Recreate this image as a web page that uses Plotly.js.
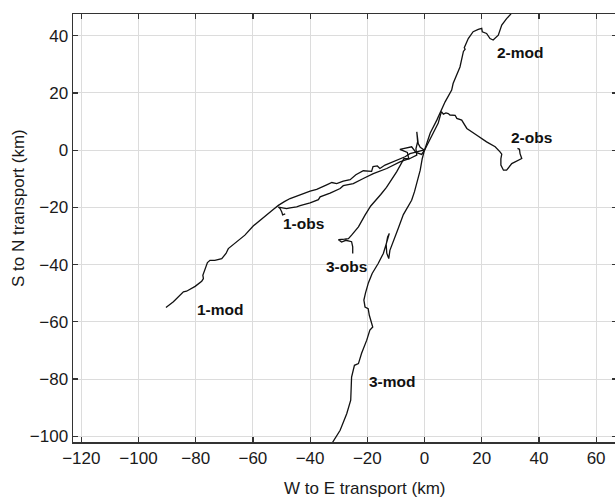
<!DOCTYPE html>
<html>
<head>
<meta charset="utf-8">
<script src="https://cdn.plot.ly/plotly-3.0.1.min.js"></script>
<style>
html,body{margin:0;padding:0;overflow:hidden;background:#fff;}
#chart{width:618px;height:497px;}
</style>
</head>
<body>
<div id="chart"></div>
<script>
// ---- data (km) ----
const mod1X = [0, -0.4, -2.7, -5.1, -6.8, -9.7, -13.8, -15.6, -16.5, -18, -18.5, -21.4, -24, -26, -28.4, -30.7, -32.4, -34.2, -37.7, -40, -42.4, -45, -47, -49, -51.1, -53, -55.2, -57.5, -59.9, -62.8, -65.7, -68.6, -69.4, -70.9, -73.3, -75, -75.9, -76.4, -77, -77.5, -77.3, -77.9, -80.2, -83.2, -84.3, -84.9, -87.8, -90.4];
const mod1Y = [0, 0, -0.6, -1.2, -2.3, -3.5, -5.2, -6.4, -5.5, -5.7, -7.4, -7.2, -8.6, -10.3, -10.8, -11.7, -11.3, -12.1, -13.7, -14.3, -15.1, -16, -16.9, -18, -19.3, -20.8, -22.7, -24.5, -26.5, -29.7, -32.1, -34.4, -36.1, -37.9, -38.5, -38.5, -39.3, -40.8, -42.2, -43.7, -44.9, -45.8, -47.6, -49.3, -49.5, -50.1, -53, -55];

const obs1X = [0, -1.5, -2.2, -2.7, -2.4, -3, -2.7, -5.1, -8.6, -13.2, -17.9, -21.4, -24.9, -28.4, -29.5, -33, -36.5, -37.1, -40, -43.5, -44.7, -47, -48.2, -51.1, -50.5, -49.9, -49.6, -48.7];
const obs1Y = [0, 1, 2.3, 6.4, 3, 0.5, -1.7, -2.9, -4.1, -6.4, -8.2, -9.9, -11.7, -12.4, -13.4, -15, -16.3, -17.3, -18.4, -19.4, -19.8, -20.2, -20.4, -19.9, -20.4, -21.6, -22.6, -22.3];

const mod2X = [0, 1, 2, 4.3, 5.8, 7.2, 9.5, 10, 12.4, 13.6, 14.2, 13.9, 15.3, 17, 18.8, 20, 20.2, 21.7, 22.9, 24, 25.8, 27, 28.7, 30.1, 31];
const mod2Y = [0, 3, 6, 10.5, 13.7, 16.9, 21, 23.3, 29.1, 34.5, 35.3, 35.8, 39, 41.4, 42.2, 42.6, 41.4, 40.8, 39, 38.5, 40.2, 43.7, 46, 47.5, 49];

const obs2X = [0, 1.2, 2.8, 4.8, 5.9, 6.6, 7.5, 8.3, 8.9, 10.7, 11.3, 13, 14.8, 16.5, 18.3, 21.7, 24.7, 26.4, 27, 26.7, 26.7, 27.6, 28.7, 30.5, 34, 33.4, 33.2, 32.5];
const obs2Y = [0, 2.5, 5.5, 9.5, 13.5, 12.6, 13, 12.8, 12.3, 12.2, 11.1, 10.5, 7.6, 6.3, 5.2, 2.9, 1.2, -0.6, -1.4, -3, -5.2, -7, -7, -4.7, -2.9, -1.2, 0.3, 0.6];

const mod3X = [0, -0.8, -1.5, -2.5, -3.5, -4.5, -6, -7.4, -9.2, -10.9, -12.1, -12.5, -13.2, -13.4, -12.9, -12.3, -12.8, -13.6, -14.4, -16.2, -18.3, -19.6, -20.6, -21.2, -20.8, -19.7, -19.3, -18.5, -18.1, -19.1, -20.2, -22, -23.1, -24.5, -24.9, -25.5, -25.8, -27.2, -29.5, -32.1, -33];
const mod3Y = [0, -3, -7, -11, -14.5, -17.5, -20, -22.5, -27.4, -32.1, -35, -37.9, -36, -33, -30.3, -29.1, -30.5, -33.5, -36.1, -39.6, -43.1, -46.3, -49.8, -52.4, -54.8, -55.4, -57.7, -60, -61.8, -62.9, -66.4, -71, -74.6, -75.2, -77, -79.3, -87.4, -92.1, -97.9, -102, -103.5];

const obs3X = [0, -1, -3, -4.5, -8.6, -6, -5.5, -7.2, -9.7, -11.5, -13.3, -15.3, -17.3, -18.8, -20.8, -23.1, -25.5, -26.6, -28, -30.1, -29, -27.5, -25.5, -25.1, -25.1];
const obs3Y = [0, -1.5, -0.8, 1.2, 0.3, -0.8, -3, -3, -7.5, -10.5, -13, -15.5, -18, -19.5, -22.7, -26.8, -29.7, -30.9, -31.1, -31.3, -32.1, -31.5, -32, -33.8, -36.1];

const xTicks = [-120, -100, -80, -60, -40, -20, 0, 20, 40, 60];
const yTicks = [-100, -80, -60, -40, -20, 0, 20, 40];
const labels = ['1-mod', '1-obs', '2-mod', '2-obs', '3-mod', '3-obs'];
const labelX = [-71.3, -42.4, 33.4, 37.5, -11.3, -27.2];
const labelY = [-55.7, -25.6, 34.1, 4.3, -80.7, -40.8];

// ---- chart ----
const lineStyle = {color: '#111', width: 1.3};
const series = [[mod1X, mod1Y], [obs1X, obs1Y], [mod2X, mod2Y], [obs2X, obs2Y], [mod3X, mod3Y], [obs3X, obs3Y]];
const traces = series.map(s => ({x: s[0], y: s[1], type: 'scatter', mode: 'lines', line: lineStyle, hoverinfo: 'skip'}));

const FONT = '"Liberation Sans", Arial, Helvetica, sans-serif';
const axisCommon = {
  ticks: 'inside', ticklen: 5, tickwidth: 1.2, tickcolor: '#333',
  showline: true, linecolor: '#333', linewidth: 1.5, mirror: 'ticks',
  showgrid: true, gridcolor: '#dcdcdc', gridwidth: 1, zeroline: false,
  tickfont: {family: FONT, size: 17, color: '#1a1a1a'}
};

const annotations = labels.map((t, i) => ({
  x: labelX[i], y: labelY[i], xref: 'x', yref: 'y', text: t, showarrow: false,
  font: {family: FONT, size: 15.5, color: '#111', weight: 'bold'}
}));
annotations.push({
  x: (364.5 - 73) / 544, y: 488, xref: 'paper', yref: 'paper', text: 'W to E transport (km)', showarrow: false,
  font: {family: FONT, size: 17, color: '#1a1a1a'}, yanchor: 'middle', xanchor: 'center'
});
annotations.push({
  x: 18, y: 208, xref: 'paper', yref: 'paper', text: 'S to N transport (km)', showarrow: false, textangle: -90,
  font: {family: FONT, size: 17, color: '#1a1a1a'}, yanchor: 'middle', xanchor: 'center'
});
// convert pixel positions of axis titles to paper coords
annotations[6].y = (497 - 55 - 488) / 428;
annotations[7].x = (18 - 73) / 544;
annotations[7].y = (497 - 55 - 208) / 428;

const layout = {
  width: 618, height: 497,
  margin: {l: 73, r: 1, t: 14, b: 55},
  paper_bgcolor: '#fff', plot_bgcolor: '#fff',
  showlegend: false,
  font: {family: FONT, color: '#1a1a1a'},
  xaxis: Object.assign({}, axisCommon, {range: [-122.9, 67.3], tickvals: xTicks, ticktext: xTicks.map(v => v < 0 ? '\u2212' + Math.abs(v) : String(v))}),
  yaxis: Object.assign({}, axisCommon, {range: [-102, 47.6], tickvals: yTicks, ticktext: yTicks.map(v => v < 0 ? '\u2212' + Math.abs(v) : String(v))}),
  annotations: annotations
};

Plotly.newPlot('chart', traces, layout, {displayModeBar: false, staticPlot: true});
</script>
</body>
</html>
